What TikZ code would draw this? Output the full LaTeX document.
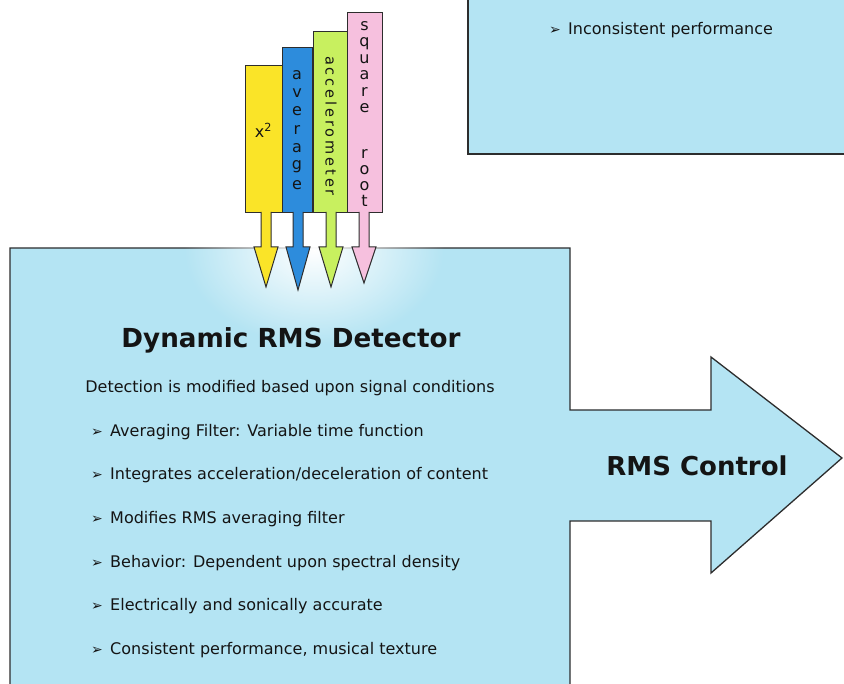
\documentclass[tikz,border=0pt]{standalone}
\usepackage{fontspec}
\setmainfont{DejaVu Sans}
\usetikzlibrary{fadings}
\definecolor{boxblue}{RGB}{180,228,243}
\definecolor{edgecol}{RGB}{45,45,45}
\definecolor{txt}{RGB}{20,20,20}
\definecolor{cyellow}{RGB}{250,228,40}
\definecolor{cblue}{RGB}{45,140,220}
\definecolor{cgreen}{RGB}{200,240,95}
\definecolor{cpink}{RGB}{246,192,222}
\tikzfading[name=glowfade, inner color=transparent!0, outer color=transparent!100]
\newcommand{\bul}{\makebox[19pt][l]{\fontsize{14}{14}\selectfont ➢}}
\tikzset{
  boxline/.style={draw=edgecol, line width=1.3pt},
  bar/.style={draw=edgecol, line width=1pt, minimum width=#1, anchor=north, inner sep=0pt},
  barbody/.style={font=\fontsize{16}{16}\selectfont, text=txt, inner sep=0pt},
  bodytext/.style={font=\fontsize{16}{19}\selectfont, text=txt, inner sep=0pt},
  item/.style={bodytext, anchor=west},
  blockarrow/.style={draw=edgecol, line width=1pt},
}
\begin{document}
\begin{tikzpicture}[x=1pt,y=-1pt]
\useasboundingbox (0,0) rectangle (844,684);
\clip (0,0) rectangle (844,684);
% top-right box
\fill[boxblue] (468,-10) rectangle (860,154);
\draw[boxline] (468,-10) -- (468,154) -- (860,154);
\node[item] (inc) at (549,30) {\bul Inconsistent performance};
% main box with arrow
\path[fill=boxblue] (10,248) -- (570,248) -- (570,410) -- (711,410) -- (711,357) -- (842,458) -- (711,573) -- (711,521) -- (570,521) -- (570,700) -- (10,700) -- cycle;
\draw[boxline] (10,700) -- (10,248) -- (570,248) -- (570,410) -- (711,410) -- (711,357) -- (842,458) -- (711,573) -- (711,521) -- (570,521) -- (570,700);
% glow
\fill[white, path fading=glowfade] (184,155) rectangle (444,345);
% bars
\node[bar=37pt, minimum height=147pt, fill=cyellow] (bx) at (263.5,65) {};
\node[bar=30pt, minimum height=165pt, fill=cblue] (ba) at (297,47) {};
\node[bar=34pt, minimum height=181pt, fill=cgreen] (bc) at (330,31) {};
\node[bar=35pt, minimum height=200pt, fill=cpink] (bs) at (364.5,12) {};
% bar texts
\node[barbody] at (263.5,130) {x\textsuperscript{2}};
\foreach \c [count=\i] in {a,v,e,r,a,g,e}
  \node[barbody] at (297,{75+(\i-1)*18.3}) {\c};
\node[rotate=-90, text=txt, inner sep=0pt, font=\fontsize{14.5}{15}\selectfont\addfontfeature{LetterSpace=20}] at (331,126) {accelerometer};
\foreach \c/\yy in {s/26.5,q/43.5,u/59,a/75.5,r/92,e/108.5,r/154,o/170,o/186,t/201}
  \node[barbody] at (364.5,\yy) {\c};
% block arrows from bars into the box
\foreach \n/\cx/\ty/\col in {bx/266/287/cyellow, ba/298/290/cblue, bc/331/287/cgreen, bs/364/283/cpink}
  \draw[blockarrow, fill=\col] (\cx-5,212) -- (\cx-5,247) -- (\cx-12,247) -- (\cx,\ty) -- (\cx+12,247) -- (\cx+5,247) -- (\cx+5,212);
% texts
\node[font=\bfseries\fontsize{26.2}{31}\selectfont, text=txt] (title) at (291,340) {Dynamic RMS Detector};
\node[bodytext] (sub) at (290,388) {Detection is modified based upon signal conditions};
\node[item] (i1) at (91,432) {\bul Averaging Filter: Variable time function};
\node[item] (i2) at (91,475) {\bul Integrates acceleration/deceleration of content};
\node[item] (i3) at (91,519) {\bul Modifies RMS averaging filter};
\node[item] (i4) at (91,563) {\bul Behavior: Dependent upon spectral density};
\node[item] (i5) at (91,606) {\bul Electrically and sonically accurate};
\node[item] (i6) at (91,650) {\bul Consistent performance, musical texture};
\node[font=\bfseries\fontsize{26}{30}\selectfont, text=txt] (ctrl) at (697,466) {RMS Control};
\end{tikzpicture}
\end{document}
